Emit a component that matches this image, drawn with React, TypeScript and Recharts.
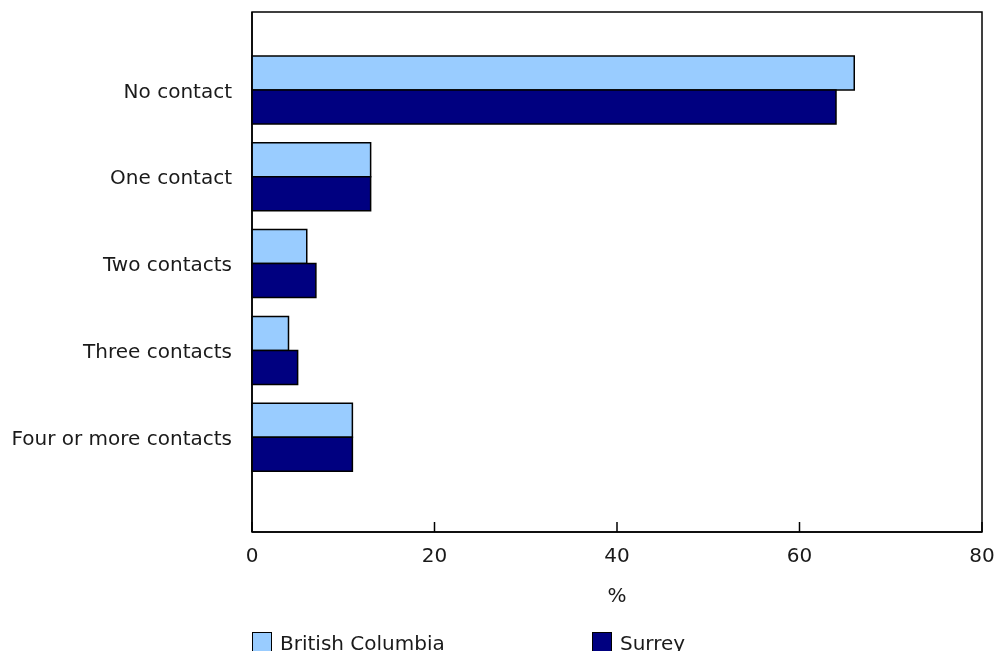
import * as Recharts from 'recharts';
import { BarChart, Bar, XAxis, YAxis, Legend } from 'recharts';

const categories = ['No contact', 'One contact', 'Two contacts', 'Three contacts', 'Four or more contacts'];
const britishColumbia = [66, 13, 6, 4, 11];
const surrey = [64, 13, 7, 5, 11];
const xTicks = [0, 20, 40, 60, 80];

const data = categories.map((category, i) => ({
    category,
    bc: britishColumbia[i],
    surrey: surrey[i],
}));

const FONT = '"DejaVu Sans", Verdana, sans-serif';
const TEXT = '#1a1a1a';

const usePlotArea: () => any = (Recharts as any).usePlotArea;

// box around the plot area (top and right sides are not axes)
const PlotFrame = () => {
    const area = usePlotArea();
    if (!area) return null;
    return (
        <rect
            x={area.x}
            y={area.y}
            width={area.width}
            height={area.height}
            fill="none"
            stroke="#000"
            strokeWidth={1.5}
        />
    );
};

const XTick = (props: any) => {
    const { x, y, payload } = props;
    return (
        <g>
            <line x1={x} x2={x} y1={y - 16} y2={y - 26} stroke="#000" strokeWidth={1.5} />
            <text x={x} y={y} dy="0.71em" textAnchor="middle" fontSize={20} fill={TEXT} fontFamily={FONT}>
                {payload.value}
            </text>
        </g>
    );
};

const LegendBox = () => (
    <div style={{ display: 'flex', height: 30, fontFamily: FONT, fontSize: 20, color: TEXT }}>
        {[
            { name: 'British Columbia', color: '#99CCFF' },
            { name: 'Surrey', color: '#000080' },
        ].map((item) => (
            <div key={item.name} style={{ width: 340, display: 'flex', alignItems: 'flex-start' }}>
                <span
                    style={{
                        width: 18,
                        height: 18,
                        background: item.color,
                        border: '1.5px solid #000',
                        marginRight: 8,
                    }}
                />
                <span style={{ lineHeight: '22px' }}>{item.name}</span>
            </div>
        ))}
    </div>
);

export default function App() {
    return (
        <div style={{ position: 'fixed', top: 0, left: 0, width: 996, height: 651, overflow: 'hidden' }}>
            <BarChart
                width={996}
                height={680}
                data={data}
                layout="vertical"
                barCategoryGap={9}
                barGap={0}
                margin={{ top: 12, right: 14, left: 0, bottom: 18 }}
            >
                <XAxis
                    type="number"
                    domain={[0, 80]}
                    ticks={xTicks}
                    height={100}
                    tickLine={false}
                    tickSize={0}
                    tickMargin={16}
                    tick={<XTick />}
                    axisLine={{ stroke: '#000', strokeWidth: 1.5 }}
                    label={{ value: '%', position: 'insideBottom', offset: 30, fontSize: 20, fill: TEXT, fontFamily: FONT }}
                />
                <YAxis
                    type="category"
                    dataKey="category"
                    width={252}
                    tickLine={false}
                    tickSize={0}
                    tickMargin={20}
                    padding={{ top: 35, bottom: 51 }}
                    axisLine={{ stroke: '#000', strokeWidth: 1.5 }}
                    tick={{ fontSize: 20, fill: TEXT, fontFamily: FONT }}
                />
                <PlotFrame />
                <Legend
                    verticalAlign="bottom"
                    content={<LegendBox />}
                    wrapperStyle={{ left: 252, top: 632, width: 744 }}
                />
                <Bar dataKey="bc" name="British Columbia" fill="#99CCFF" stroke="#000" strokeWidth={1.5} isAnimationActive={false} />
                <Bar dataKey="surrey" name="Surrey" fill="#000080" stroke="#000" strokeWidth={1.5} isAnimationActive={false} />
            </BarChart>
        </div>
    );
}
